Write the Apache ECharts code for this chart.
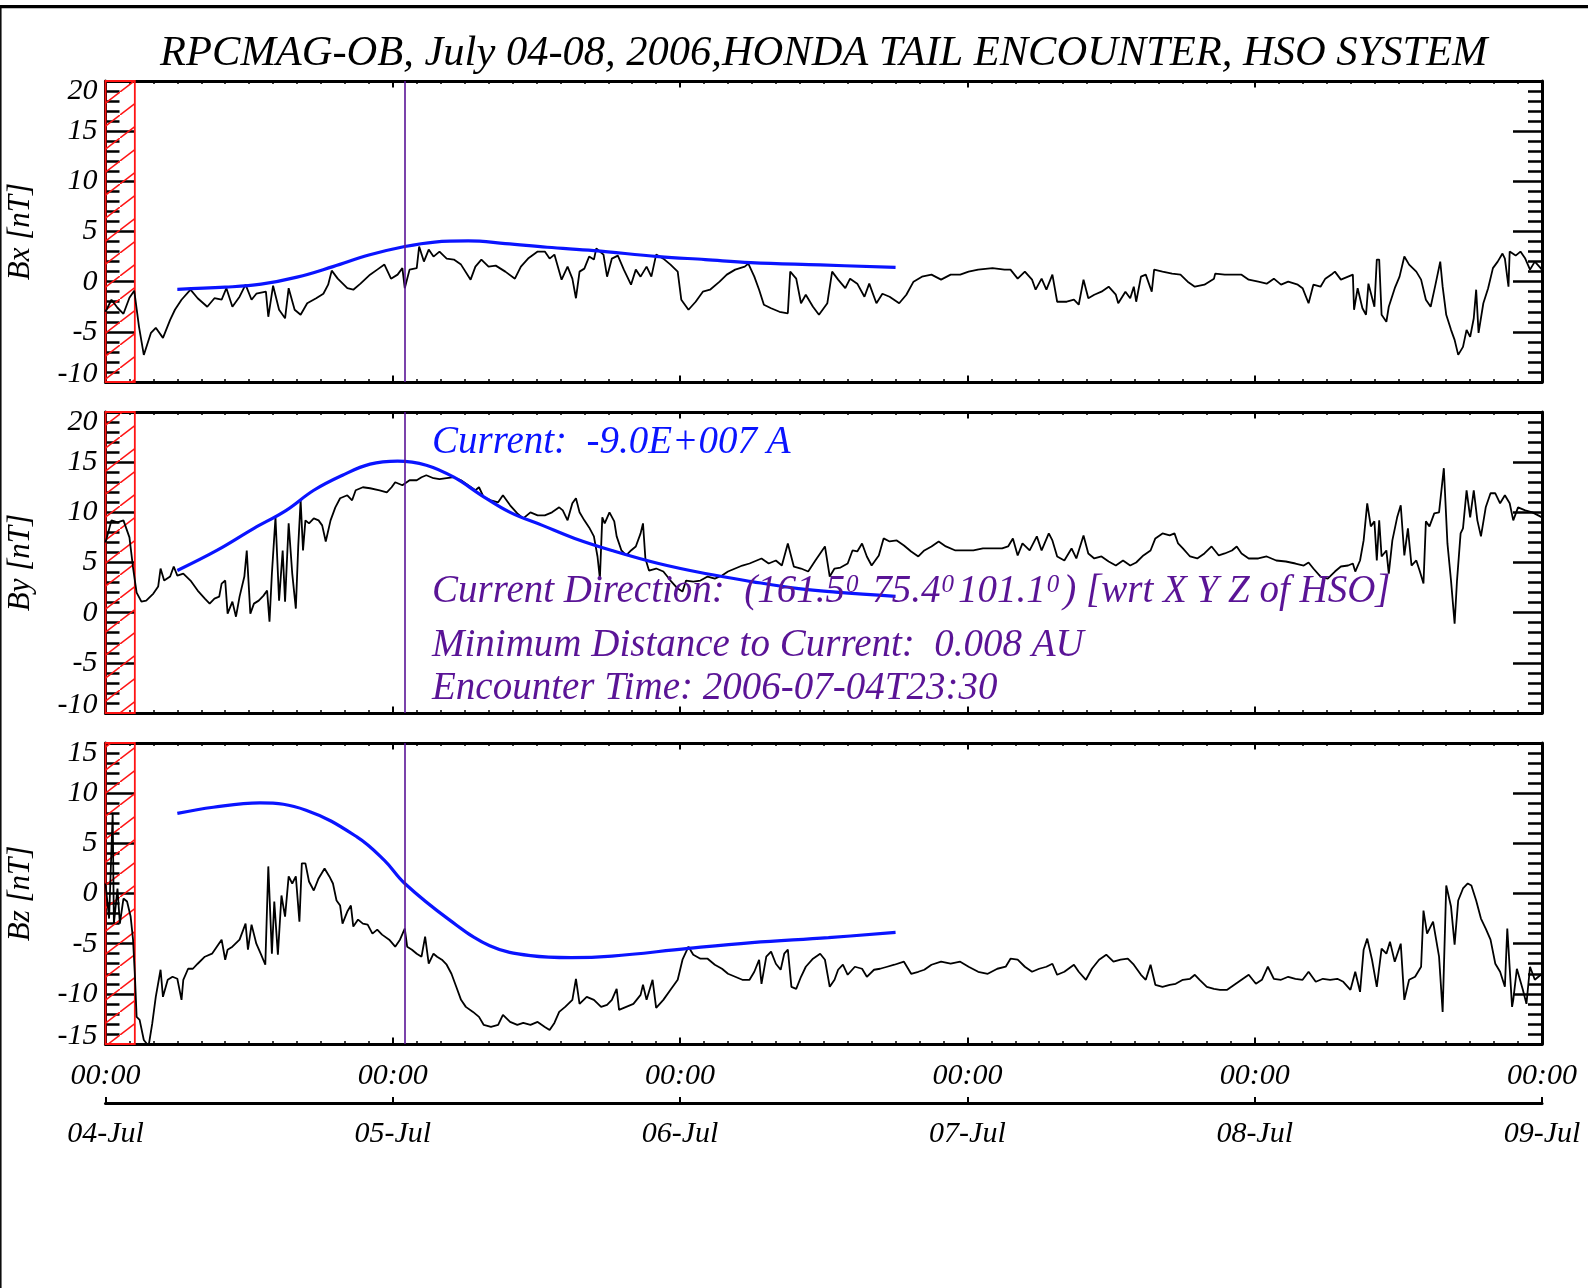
<!DOCTYPE html>
<html><head><meta charset="utf-8">
<script src="https://cdn.jsdelivr.net/npm/echarts@6/dist/echarts.min.js"></script>
<style>html,body{margin:0;padding:0;background:#fff}#c{width:1588px;height:1288px}</style>
</head><body><div id="c"></div>
<script>
// ---------- DATA (time in hours since 2006-07-04 00:00, values in nT) ----------
const dayLabels = ['04-Jul','05-Jul','06-Jul','07-Jul','08-Jul','09-Jul'];
const timeLabels = ['00:00','00:00','00:00','00:00','00:00','00:00'];
const panelNames = ['Bx [nT]','By [nT]','Bz [nT]'];
const panelMin = [-10,-10,-15];
const panelMax = [20,20,15];
const encounterHour = 25.0;
const hatchEndHour = 2.45;
const titleText = 'RPCMAG-OB, July 04-08, 2006,HONDA TAIL ENCOUNTER, HSO SYSTEM';
const currentText = 'Current:  -9.0E+007 A';
const directionAngles = ['161.5','75.4','101.1'];
const distanceText = 'Minimum Distance to Current:  0.008 AU';
const encounterText = 'Encounter Time: 2006-07-04T23:30';

const bxData = [[0,-3.0],[0.5,-1.8],[1.0,-2.6],[1.5,-3.2],[2.0,-1.6],[2.4,-0.9],[2.8,-4.5],[3.2,-7.3],[3.8,-5.1],[4.2,-4.6],[4.8,-5.6],[5.4,-3.8],[5.8,-2.8],[6.35,-1.8],[7.1,-0.8],[7.7,-1.65],[8.5,-2.5],[9.1,-1.65],[9.7,-1.8],[10.1,-0.65],[10.6,-2.5],[11.2,-1.5],[11.7,-0.3],[12.2,-1.8],[12.6,-1.2],[13.4,-1.0],[13.6,-3.5],[14.0,-0.4],[14.5,-2.8],[15.0,-3.65],[15.3,-0.65],[15.8,-2.8],[16.3,-3.3],[16.85,-2.15],[17.6,-1.65],[18.2,-1.2],[18.6,-0.3],[18.9,1.1],[19.4,0.3],[20.2,-0.65],[20.7,-0.8],[21.3,-0.2],[22.1,0.7],[22.7,1.2],[23.3,1.7],[23.85,0.3],[24.4,0.7],[24.8,1.35],[25.0,-0.65],[25.4,1.2],[26.0,1.35],[26.2,3.5],[26.6,2.0],[27.0,3.2],[27.4,2.5],[27.9,3.0],[28.5,2.3],[29.1,2.2],[29.7,1.7],[30.5,0.2],[30.9,1.5],[31.4,2.2],[32.0,1.5],[32.6,1.6],[33.4,1.0],[34.2,0.3],[34.7,1.5],[35.3,2.3],[36.1,3.0],[36.7,3.0],[37.1,2.3],[37.5,2.7],[38.1,0.2],[38.6,1.5],[39.0,0.3],[39.3,-1.65],[39.6,1.0],[40.0,1.3],[40.4,2.5],[40.8,2.2],[41.0,3.3],[41.6,2.7],[41.9,0.5],[42.3,2.3],[42.8,2.6],[43.3,1.2],[43.9,-0.3],[44.3,1.2],[44.7,0.5],[45.2,1.5],[45.6,0.5],[46.0,2.7],[46.6,2.3],[47.2,1.7],[47.8,1.0],[48.1,-1.8],[48.7,-2.8],[49.3,-2.0],[49.9,-1.0],[50.5,-0.8],[51.3,0.0],[51.9,0.7],[52.6,1.2],[53.4,1.5],[53.7,1.8],[54.2,0.5],[54.6,-0.8],[55.0,-2.3],[55.6,-2.65],[56.3,-3.0],[57.0,-3.15],[57.2,1.0],[57.7,0.3],[58.1,-2.15],[58.5,-1.3],[59.1,-2.5],[59.6,-3.3],[60.3,-2.15],[60.7,1.0],[61.2,0.2],[61.8,-0.65],[62.2,0.3],[62.8,-0.2],[63.4,-1.5],[63.8,-0.2],[64.4,-2.15],[64.9,-1.2],[65.5,-1.5],[66.3,-2.15],[66.9,-1.3],[67.5,0.0],[68.2,0.5],[69.0,0.7],[69.8,0.2],[70.6,0.7],[71.4,0.7],[72.1,1.0],[72.9,1.2],[74.1,1.35],[75.1,1.2],[75.6,1.2],[76.2,0.3],[76.8,1.0],[77.4,0.2],[77.7,-0.8],[78.2,0.3],[78.6,-0.8],[79.1,0.7],[79.5,-2.0],[80.3,-2.0],[80.9,-1.8],[81.3,-2.3],[81.7,0.2],[82.1,-1.65],[82.6,-1.3],[83.2,-1.0],[83.8,-0.5],[84.4,-1.3],[84.6,-2.15],[85.2,-1.0],[85.6,-1.65],[85.9,-0.5],[86.1,-2.0],[86.5,0.5],[86.9,0.7],[87.4,-1.0],[87.6,1.2],[88.3,1.0],[89.1,0.8],[89.8,0.7],[90.4,0.0],[91.0,-0.5],[91.8,-0.3],[92.6,0.3],[92.7,0.8],[93.5,0.7],[94.3,0.7],[94.9,0.7],[95.5,0.2],[96.3,0.0],[97.0,-0.2],[97.6,0.3],[98.2,-0.3],[98.8,0.0],[99.6,-0.3],[100.0,-0.65],[100.5,-2.15],[100.9,-0.3],[101.5,-0.5],[101.9,0.3],[102.5,0.8],[102.7,1.0],[103.2,0.2],[103.8,0.5],[104.2,0.7],[104.3,-2.8],[104.6,-0.65],[105.0,-2.65],[105.3,-3.3],[105.5,-0.2],[106.0,-2.5],[106.2,2.2],[106.4,2.2],[106.6,-3.3],[107.0,-4.0],[107.2,-2.5],[107.7,-0.65],[108.1,0.5],[108.5,2.5],[108.9,1.7],[109.5,1.0],[109.9,0.2],[110.3,-1.8],[110.7,-2.5],[111.1,-0.3],[111.5,2.0],[111.7,-0.5],[112.0,-3.3],[112.4,-4.8],[112.7,-5.8],[113.0,-7.3],[113.4,-6.5],[113.7,-4.8],[114.0,-5.5],[114.3,-3.65],[114.5,-0.8],[114.7,-5.1],[115.1,-2.15],[115.5,-0.65],[115.9,1.35],[116.3,2.0],[116.7,2.8],[116.9,2.3],[117.2,-0.5],[117.3,3.0],[117.8,2.6],[118.2,3.0],[118.6,2.3],[119.0,1.2],[119.4,2.0],[120,1.2]];

const byData = [[0,7.0],[0.5,9.2],[1.0,9.0],[1.5,9.2],[2.0,7.5],[2.3,4.5],[2.6,2.0],[3.0,1.1],[3.4,1.2],[4.0,1.9],[4.4,2.6],[4.6,4.4],[4.9,3.2],[5.4,3.6],[5.7,4.6],[6.0,3.7],[6.5,3.9],[7.1,3.2],[7.7,2.2],[8.3,1.4],[8.7,0.9],[9.1,1.4],[9.5,1.6],[9.7,2.9],[10.0,3.2],[10.2,-0.1],[10.6,1.1],[10.9,-0.4],[11.2,1.6],[11.6,3.6],[11.8,6.2],[12.1,-0.1],[12.4,0.9],[12.8,1.2],[13.2,1.7],[13.5,2.2],[13.7,-0.9],[13.9,3.9],[14.2,9.5],[14.5,1.2],[14.8,6.2],[15.0,1.1],[15.3,8.9],[15.6,3.9],[15.9,0.4],[16.1,6.6],[16.3,11.2],[16.5,6.2],[16.7,9.2],[17.0,8.9],[17.4,9.4],[17.8,9.2],[18.1,8.7],[18.4,7.1],[18.8,9.2],[19.2,10.5],[19.6,11.4],[20.2,11.7],[20.6,11.2],[20.9,12.2],[21.5,12.5],[22.1,12.4],[22.9,12.2],[23.5,12.0],[23.9,12.5],[24.2,13.0],[24.8,12.7],[25.4,13.2],[26.0,13.2],[26.4,13.5],[26.8,13.7],[27.4,13.4],[27.9,13.3],[28.5,13.4],[29.1,13.5],[29.7,13.2],[30.3,12.7],[30.9,12.2],[31.2,12.5],[31.6,11.5],[32.2,11.2],[32.8,11.0],[33.2,11.7],[33.8,10.7],[34.4,9.9],[34.9,9.4],[35.5,10.0],[36.1,9.7],[36.7,9.7],[37.3,10.0],[37.9,10.5],[38.2,10.2],[38.6,9.2],[39.0,10.9],[39.3,11.4],[39.6,10.0],[40.0,9.2],[40.4,8.5],[40.8,7.6],[41.1,5.6],[41.3,3.4],[41.5,9.5],[41.7,8.9],[42.1,10.0],[42.5,9.1],[42.7,7.6],[43.1,6.2],[43.5,5.7],[43.9,6.2],[44.3,6.6],[44.7,7.9],[44.9,8.9],[45.1,5.4],[45.4,4.2],[46.0,4.4],[46.6,4.1],[47.2,3.2],[47.8,2.4],[48.2,2.1],[48.5,3.2],[49.1,3.1],[49.7,3.2],[50.3,3.6],[50.9,3.4],[51.5,3.7],[52.0,4.1],[52.6,4.4],[53.2,4.7],[53.8,4.9],[54.4,5.2],[54.8,5.4],[55.4,4.9],[56.0,5.2],[56.5,4.7],[57.0,6.9],[57.5,4.6],[58.1,4.4],[58.7,4.1],[59.3,5.2],[59.7,5.9],[60.1,6.6],[60.5,3.6],[60.9,4.4],[61.4,4.5],[62.0,4.9],[62.4,6.2],[62.8,6.1],[63.2,6.9],[63.6,5.6],[64.0,4.7],[64.6,5.7],[65.0,7.4],[65.5,7.1],[66.1,7.2],[66.7,6.7],[67.3,6.1],[67.9,5.6],[68.4,6.2],[69.0,6.6],[69.6,7.1],[70.2,6.6],[71.0,6.2],[71.7,6.2],[72.5,6.2],[73.3,6.4],[74.1,6.4],[74.9,6.4],[75.4,6.6],[75.8,7.4],[76.2,5.7],[76.6,6.9],[77.2,6.2],[77.8,7.6],[78.2,6.2],[78.8,7.9],[79.1,7.2],[79.5,5.6],[80.1,5.2],[80.7,6.4],[81.1,5.4],[81.7,7.7],[82.1,5.9],[82.6,5.4],[83.2,5.6],[83.8,5.1],[84.4,4.7],[85.0,5.2],[85.6,4.7],[86.1,5.0],[86.7,5.7],[87.3,6.2],[87.7,7.4],[88.3,7.9],[88.9,7.7],[89.3,7.9],[89.6,6.9],[90.0,6.4],[90.6,5.6],[91.2,5.4],[91.8,5.9],[92.4,6.6],[93.0,5.7],[93.5,5.9],[94.1,6.2],[94.5,6.6],[94.9,5.9],[95.5,5.4],[96.3,5.4],[97.0,5.6],[97.8,5.2],[98.6,5.1],[99.4,4.9],[100.1,4.7],[100.5,5.0],[100.9,4.4],[101.5,3.6],[102.1,3.4],[102.7,4.1],[103.2,4.6],[103.8,4.7],[104.2,4.9],[104.4,4.1],[104.8,5.2],[105.1,7.2],[105.4,10.9],[105.7,8.6],[106.0,9.1],[106.2,5.2],[106.4,9.2],[106.6,5.6],[107.0,6.2],[107.2,3.9],[107.5,7.2],[107.9,9.5],[108.2,10.7],[108.5,5.7],[108.8,8.4],[109.1,4.7],[109.5,5.2],[109.8,4.1],[110.1,2.9],[110.3,9.1],[110.6,8.6],[111.0,9.9],[111.4,10.0],[111.8,14.4],[112.1,6.9],[112.4,3.2],[112.7,-1.1],[112.9,3.2],[113.2,7.9],[113.4,8.4],[113.7,12.2],[114.0,9.5],[114.3,12.2],[114.6,9.2],[114.9,7.6],[115.3,10.5],[115.7,11.9],[116.1,11.9],[116.5,10.9],[116.9,11.7],[117.3,10.9],[117.6,9.2],[118.0,10.5],[118.6,10.2],[119.2,10.0],[120,9.5]];

const bzData = [[0,1.0],[0.3,-2.5],[0.6,8.0],[0.7,-3.0],[1.0,0.5],[1.2,-3.0],[1.5,-0.5],[1.8,-0.8],[2.1,-2.3],[2.3,-4.6],[2.45,-8.0],[2.6,-12.3],[2.85,-12.6],[3.2,-14.6],[3.6,-15.2],[3.9,-13.0],[4.2,-10.3],[4.6,-7.6],[4.8,-10.3],[5.2,-8.6],[5.6,-8.3],[6.0,-8.5],[6.35,-10.6],[6.5,-8.6],[6.9,-7.5],[7.3,-7.5],[7.7,-7.0],[8.3,-6.3],[8.9,-6.0],[9.3,-5.3],[9.7,-4.6],[10.0,-6.6],[10.2,-5.6],[10.6,-5.3],[11.2,-4.6],[11.7,-3.0],[11.9,-5.6],[12.2,-3.1],[12.6,-5.0],[13.0,-6.1],[13.35,-7.1],[13.6,2.7],[13.9,-6.0],[14.1,-0.8],[14.4,-6.1],[14.7,-0.2],[15.0,-2.3],[15.3,1.7],[15.6,1.0],[15.9,1.7],[16.2,-2.8],[16.4,3.0],[16.7,3.0],[17.0,1.2],[17.4,0.3],[17.8,1.5],[18.3,2.5],[18.7,1.7],[19.0,1.0],[19.3,-0.7],[19.6,-1.2],[19.8,-3.0],[20.2,-1.8],[20.5,-1.2],[20.7,-3.3],[21.1,-2.6],[21.5,-3.0],[21.9,-3.1],[22.3,-4.0],[22.7,-3.6],[23.1,-4.1],[23.7,-4.6],[24.2,-5.3],[24.6,-4.6],[25.0,-3.5],[25.2,-5.3],[25.6,-5.6],[26.0,-6.0],[26.4,-6.3],[26.7,-4.3],[27.0,-7.0],[27.4,-6.0],[27.7,-6.3],[28.1,-6.6],[28.5,-7.1],[28.9,-8.0],[29.3,-9.3],[29.7,-10.6],[30.1,-11.3],[30.7,-11.8],[31.2,-12.3],[31.6,-13.1],[32.2,-13.3],[32.8,-13.1],[33.2,-12.1],[33.8,-12.8],[34.4,-13.1],[34.9,-12.9],[35.5,-13.1],[36.1,-12.8],[36.7,-13.3],[37.1,-13.6],[37.5,-12.9],[37.9,-11.8],[38.4,-11.3],[39.0,-10.6],[39.3,-8.5],[39.6,-11.0],[40.2,-10.3],[40.8,-10.6],[41.4,-11.3],[41.9,-11.1],[42.3,-10.6],[42.7,-9.5],[42.9,-11.6],[43.5,-11.3],[44.1,-11.0],[44.7,-10.1],[44.9,-9.1],[45.2,-10.6],[45.7,-8.6],[46.0,-11.4],[46.6,-10.6],[47.2,-9.6],[47.8,-8.6],[48.2,-6.6],[48.7,-5.3],[49.1,-6.1],[49.7,-6.5],[50.3,-6.5],[50.9,-7.1],[51.5,-7.5],[52.0,-8.0],[52.6,-8.3],[53.2,-8.6],[53.8,-8.6],[54.2,-7.8],[54.6,-6.6],[54.8,-9.0],[55.2,-6.3],[55.6,-5.8],[56.0,-7.0],[56.4,-7.6],[56.7,-6.0],[57.0,-5.6],[57.3,-9.3],[57.7,-9.5],[58.1,-8.3],[58.5,-7.3],[59.1,-6.5],[59.7,-6.0],[60.1,-6.6],[60.5,-9.3],[60.9,-8.6],[61.2,-7.6],[61.6,-7.1],[62.0,-8.1],[62.6,-7.3],[63.2,-7.5],[63.6,-8.3],[64.2,-7.6],[64.7,-7.5],[65.3,-7.3],[65.9,-7.1],[66.7,-6.8],[67.3,-8.0],[67.9,-7.8],[68.4,-7.6],[69.0,-7.1],[69.8,-6.8],[70.6,-7.0],[71.4,-6.8],[72.1,-7.3],[72.9,-7.8],[73.7,-8.0],[74.5,-7.5],[75.2,-7.3],[75.6,-6.5],[76.2,-6.6],[76.8,-7.3],[77.4,-7.8],[78.0,-7.5],[78.6,-7.3],[79.1,-7.0],[79.5,-8.1],[80.1,-7.8],[80.9,-7.1],[81.3,-7.8],[81.9,-8.6],[82.4,-7.5],[83.0,-6.6],[83.6,-6.1],[84.2,-6.8],[84.8,-6.6],[85.4,-6.5],[85.9,-7.1],[86.5,-8.1],[86.9,-8.6],[87.3,-7.1],[87.7,-9.1],[88.3,-9.3],[88.9,-9.1],[89.4,-9.0],[90.0,-8.6],[90.6,-8.5],[91.0,-8.1],[91.4,-8.6],[92.0,-9.3],[92.6,-9.5],[93.1,-9.6],[93.7,-9.6],[94.3,-9.1],[94.9,-8.6],[95.5,-8.1],[96.1,-9.0],[96.6,-8.6],[97.1,-7.3],[97.6,-8.5],[98.2,-8.6],[98.8,-8.3],[99.4,-8.5],[100.0,-8.6],[100.5,-7.8],[101.1,-8.8],[101.7,-8.5],[102.3,-8.6],[102.9,-8.5],[103.4,-8.8],[104.0,-9.6],[104.4,-7.8],[104.8,-9.8],[105.1,-5.6],[105.4,-4.5],[105.8,-6.6],[106.2,-9.3],[106.6,-5.5],[107.0,-6.0],[107.3,-4.8],[107.7,-6.8],[108.2,-5.0],[108.5,-10.6],[108.9,-8.6],[109.4,-8.3],[109.9,-7.3],[110.1,-1.7],[110.4,-4.0],[110.9,-2.8],[111.4,-6.3],[111.7,-11.8],[112.0,0.8],[112.4,-1.3],[112.7,-5.1],[113.0,-0.7],[113.4,0.5],[113.8,1.0],[114.1,0.8],[114.5,-0.7],[114.9,-2.5],[115.3,-3.5],[115.7,-4.6],[116.1,-7.0],[116.5,-7.8],[116.9,-9.3],[117.1,-3.5],[117.5,-11.3],[117.6,-10.6],[117.9,-7.5],[118.4,-9.6],[118.7,-11.0],[119.0,-7.3],[119.4,-8.6],[120,-8.0]];

const bxModel = [[6,-0.76],[10,-0.55],[13,-0.25],[16,0.45],[19,1.5],[22,2.65],[25,3.5],[27.5,3.95],[30.3,4.06],[33.4,3.8],[36.9,3.43],[40.8,3.1],[46.2,2.5],[50.1,2.2],[53.9,1.9],[59.7,1.67],[66,1.42]];
const byModel = [[6,4.2],[9.3,6.2],[12.4,8.4],[15.1,10.2],[17.4,12.2],[19.8,13.7],[22.1,14.8],[24.4,15.1],[26.8,14.7],[29.1,13.5],[31.4,11.7],[33.8,10.0],[36.5,8.7],[39.2,7.4],[42.3,6.2],[46.2,4.9],[50.1,3.9],[54.0,3.1],[57.9,2.4],[61,2.05],[66,1.63]];
const bzModel = [[6,7.98],[9,8.6],[12.9,9.03],[16.75,8.3],[21.0,5.65],[23.3,3.3],[25.0,1.0],[28.7,-2.6],[32.1,-5.2],[35.5,-6.2],[38.9,-6.4],[42.3,-6.24],[48.7,-5.47],[54.0,-4.9],[60.4,-4.4],[66,-3.87]];

const panelData = [bxData, byData, bzData];
const panelModel = [bxModel, byModel, bzModel];

// ---------- STYLE / LAYOUT ----------
const FONT = "'Liberation Serif', 'DejaVu Serif', serif";
const PURPLE = '#5a1496';
const BLUE = '#0a14ff';
const RED = '#ff1414';
const GL = 105.5, GR = 46, GH = 301;
const panelTops = [81, 412, 743];

function hatch() {
  const c = document.createElement('canvas');
  const w = 30, h = 23;
  c.width = w; c.height = h;
  const g = c.getContext('2d');
  g.strokeStyle = RED; g.lineWidth = 1.5;
  [[0,0],[-w,h],[w,-h]].forEach(([dx,dy]) => {
    g.beginPath(); g.moveTo(dx, h + dy); g.lineTo(w + dx, dy); g.stroke();
  });
  return c;
}

const grids = [], xAxes = [], yAxes = [], series = [];
panelTops.forEach((top, i) => {
  grids.push({left: GL, right: GR, top: top, height: GH, show: false, containLabel: false, outerBoundsMode: 'none'});
  ['bottom','top'].forEach(pos => xAxes.push({
    type: 'value', gridIndex: i, position: pos, min: 0, max: 120, interval: 24,
    axisLine: {onZero: false, lineStyle: {color: '#000', width: 3}},
    axisTick: {inside: true, length: 6.5, lineStyle: {color: '#000', width: 2}},
    minorTick: {show: true, splitNumber: 12, length: 3, lineStyle: {color: '#000', width: 1.5}},
    axisLabel: {show: false}, splitLine: {show: false}, minorSplitLine: {show: false}
  }));
  ['left','right'].forEach(pos => {
    const lab = {fontFamily: FONT, fontStyle: 'italic', fontSize: 30, color: '#000'};
    yAxes.push({
      type: 'value', gridIndex: i, position: pos, min: panelMin[i], max: panelMax[i], interval: 5,
      name: pos === 'left' ? panelNames[i] : '', nameLocation: 'middle', nameGap: 69,
      nameTextStyle: {fontFamily: FONT, fontStyle: 'italic', fontSize: 31, color: '#000'},
      axisLine: {onZero: false, lineStyle: {color: '#000', width: 3}},
      axisTick: {inside: true, length: 29, lineStyle: {color: '#000', width: 2.5}},
      minorTick: {show: true, splitNumber: 5, length: 14, lineStyle: {color: '#000', width: 2.5}},
      splitLine: {show: false}, minorSplitLine: {show: false},
      axisLabel: {
        show: pos === 'left', margin: 8, showMinLabel: true, showMaxLabel: true,
        formatter: v => v === panelMax[i] ? '{hi|' + v + '}' : (v === panelMin[i] ? '{lo|' + v + '}' : '{n|' + v + '}'),
        rich: {
          n: lab,
          hi: Object.assign({padding: [20, 0, 0, 0]}, lab),
          lo: Object.assign({padding: [0, 0, 16, 0]}, lab)
        }
      }
    });
  });
  series.push({
    type: 'line', xAxisIndex: 2 * i, yAxisIndex: 2 * i, data: panelData[i],
    showSymbol: false, symbol: 'none', clip: true, z: 3,
    lineStyle: {color: '#000', width: 1.8},
    markArea: {silent: true, data: [[{xAxis: 0}, {xAxis: hatchEndHour}]],
      itemStyle: {color: {image: hatch(), repeat: 'repeat'}, borderColor: RED, borderWidth: 1.8}},
    markLine: {silent: true, symbol: 'none', label: {show: false}, animation: false,
      lineStyle: {color: PURPLE, width: 1.6, type: 'solid'}, data: [{xAxis: encounterHour}]}
  });
  series.push({
    type: 'line', xAxisIndex: 2 * i, yAxisIndex: 2 * i, data: panelModel[i],
    showSymbol: false, symbol: 'none', smooth: 0.4, clip: true, z: 4,
    lineStyle: {color: BLUE, width: 3.2}
  });
});

// separate date / time axis
grids.push({left: GL, right: GR, top: 1102, height: 1, show: false, containLabel: false, outerBoundsMode: 'none'});
const dateLab = {fontFamily: FONT, fontStyle: 'italic', fontSize: 30, color: '#000'};
xAxes.push({
  type: 'value', gridIndex: 3, position: 'bottom', min: 0, max: 120, interval: 24,
  axisLine: {onZero: false, lineStyle: {color: '#000', width: 3}},
  axisTick: {inside: true, length: 6, lineStyle: {color: '#000', width: 2}},
  splitLine: {show: false},
  axisLabel: Object.assign({margin: 16, showMinLabel: true, showMaxLabel: true,
    formatter: v => dayLabels[Math.round(v / 24)]}, dateLab)
});
xAxes.push({
  type: 'value', gridIndex: 3, position: 'top', min: 0, max: 120, interval: 24,
  axisLine: {show: false}, axisTick: {show: false}, splitLine: {show: false},
  axisLabel: Object.assign({margin: 11, showMinLabel: true, showMaxLabel: true,
    formatter: v => timeLabels[Math.round(v / 24)]}, dateLab)
});
yAxes.push({type: 'value', gridIndex: 3, min: 0, max: 1, show: false});

const big = 39;
const txt = (text, x, y, fill, size) => ({
  type: 'text', x: x, y: y, silent: true, z: 10,
  style: {text: text, fill: fill, font: 'italic ' + (size || big) + 'px ' + FONT,
    align: x > 800 ? 'center' : 'left', verticalAlign: 'middle'}
});
const supStyle = {fontSize: 25, fontStyle: 'italic', fontFamily: FONT, fill: PURPLE, verticalAlign: 'top', padding: [0, 4, 0, 1]};
const mainStyle = {fontSize: big, fontStyle: 'italic', fontFamily: FONT, fill: PURPLE};
const dirText = '{m|Current Direction:  (' + directionAngles[0] + '}{s|0}{m| ' + directionAngles[1] + '}{s|0}{m|' +
  directionAngles[2] + '}{s|0}{m|) [wrt X Y Z of HSO]}';

const option = {
  animation: false,
  backgroundColor: '#fff',
  grid: grids, xAxis: xAxes, yAxis: yAxes, series: series,
  graphic: [
    {type: 'line', silent: true, shape: {x1: 0, y1: 6.7, x2: 1588, y2: 6.7}, style: {stroke: '#000', lineWidth: 3.3}},
    {type: 'line', silent: true, shape: {x1: 0.8, y1: 6.7, x2: 0.8, y2: 1288}, style: {stroke: '#000', lineWidth: 1.5}},
    txt(titleText, 823.75, 53.5, '#000', 42.5),
    txt(currentText, 432, 443, BLUE),
    {type: 'text', x: 432, y: 592, silent: true, z: 10,
      style: {text: dirText, rich: {m: mainStyle, s: supStyle}, verticalAlign: 'middle', align: 'left'}},
    txt(distanceText, 432, 646, PURPLE),
    txt(encounterText, 432, 689, PURPLE)
  ]
};
const chart = echarts.init(document.getElementById('c'), null, {renderer: 'canvas'});
chart.setOption(option);
</script>
</body></html>
